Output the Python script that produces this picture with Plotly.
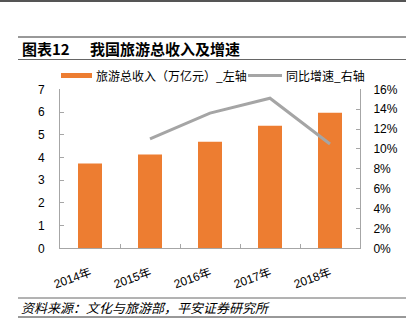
import plotly.graph_objects as go

years = ["2014年", "2015年", "2016年", "2017年", "2018年"]
revenue = [3.73, 4.13, 4.69, 5.40, 5.97]
growth_years = ["2015年", "2016年", "2017年", "2018年"]
growth = [0.110, 0.136, 0.151, 0.105]
left_ticks = [0, 1, 2, 3, 4, 5, 6, 7]
right_ticks = [0, 0.02, 0.04, 0.06, 0.08, 0.10, 0.12, 0.14, 0.16]

W, H = 406, 334
ORANGE = "#ED7D31"
GRAY = "#A5A5A5"
AXIS = "#A6A6A6"
FONT = "Liberation Sans, Arial, Noto Sans CJK SC, sans-serif"
CJK = "Noto Sans CJK SC, Liberation Sans, sans-serif"

def px(x):
    return x / W

def py(y):
    return 1 - y / H

fig = go.Figure()
fig.add_trace(go.Bar(x=years, y=revenue, marker=dict(color=ORANGE, line=dict(width=0)),
                     width=0.4, showlegend=False, yaxis="y"))
fig.add_trace(go.Scatter(x=growth_years, y=growth, mode="lines",
                         line=dict(color=GRAY, width=3), showlegend=False, yaxis="y2"))

fig.update_layout(
    width=W, height=H,
    margin=dict(l=0, r=0, t=0, b=0),
    paper_bgcolor="white", plot_bgcolor="white",
    font=dict(family=FONT, size=12, color="#000000"),
    xaxis=dict(domain=[px(60), px(360)], anchor="y", showline=True, linecolor=AXIS, linewidth=1,
               ticks="inside", ticklen=4, tickcolor=AXIS, tickson="boundaries",
               tickangle=-20, tickfont=dict(family=FONT, size=12), showgrid=False,
               ticklabelstandoff=12, automargin=False),
    yaxis=dict(domain=[py(248.3), py(89.3)], range=[0, 7], tickvals=left_ticks,
               showline=True, linecolor=AXIS, linewidth=1, ticks="inside", ticklen=4,
               tickcolor=AXIS, showgrid=False, zeroline=False, ticklabelstandoff=12,
               automargin=False),
    yaxis2=dict(domain=[py(248.3), py(89.3)], range=[0, 0.16], tickvals=right_ticks,
                tickformat=".0%", overlaying="y", side="right", anchor="x",
                showline=True, linecolor=AXIS, linewidth=1, ticks="inside", ticklen=4,
                tickcolor=AXIS, showgrid=False, zeroline=False, ticklabelstandoff=10,
                automargin=False),
    bargap=0.6,
)

shapes = [
    dict(type="line", xref="paper", yref="paper", x0=0, x1=1, y0=py(1), y1=py(1),
         line=dict(color="#555555", width=2)),
    dict(type="line", xref="paper", yref="paper", x0=px(18), x1=1, y0=py(37), y1=py(37),
         line=dict(color="#333333", width=1)),
    dict(type="line", xref="paper", yref="paper", x0=px(18), x1=1, y0=py(59.5), y1=py(59.5),
         line=dict(color="#666666", width=1)),
    dict(type="line", xref="paper", yref="paper", x0=px(18), x1=1, y0=py(298), y1=py(298),
         line=dict(color="#666666", width=1)),
    dict(type="line", xref="paper", yref="paper", x0=px(18), x1=1, y0=py(317), y1=py(317),
         line=dict(color="#333333", width=1)),
    # legend samples
    dict(type="line", xref="paper", yref="paper", x0=px(61), x1=px(92), y0=py(75.5), y1=py(75.5),
         line=dict(color=ORANGE, width=5)),
    dict(type="line", xref="paper", yref="paper", x0=px(248), x1=px(282), y0=py(75.5), y1=py(75.5),
         line=dict(color=GRAY, width=3)),
]
fig.update_layout(shapes=shapes)

annotations = [
    dict(text="<b>图表12</b>", xref="paper", yref="paper", x=px(20), y=py(48),
         xanchor="left", yanchor="middle", showarrow=False,
         font=dict(family=CJK, size=15, color="#000000")),
    dict(text="<b>我国旅游总收入及增速</b>", xref="paper", yref="paper", x=px(88), y=py(48),
         xanchor="left", yanchor="middle", showarrow=False,
         font=dict(family=CJK, size=15, color="#000000")),
    dict(text="旅游总收入（万亿元）_左轴", xref="paper", yref="paper", x=px(94), y=py(75.5),
         xanchor="left", yanchor="middle", showarrow=False,
         font=dict(family=CJK, size=12, color="#000000")),
    dict(text="同比增速_右轴", xref="paper", yref="paper", x=px(284), y=py(75.5),
         xanchor="left", yanchor="middle", showarrow=False,
         font=dict(family=CJK, size=12, color="#000000")),
    dict(text="<i>资料来源：文化与旅游部，平安证券研究所</i>", xref="paper", yref="paper",
         x=px(19), y=py(307.5), xanchor="left", yanchor="middle", showarrow=False,
         font=dict(family=CJK, size=13, color="#000000")),
]
fig.update_layout(annotations=annotations)

fig.write_html("out.html")
